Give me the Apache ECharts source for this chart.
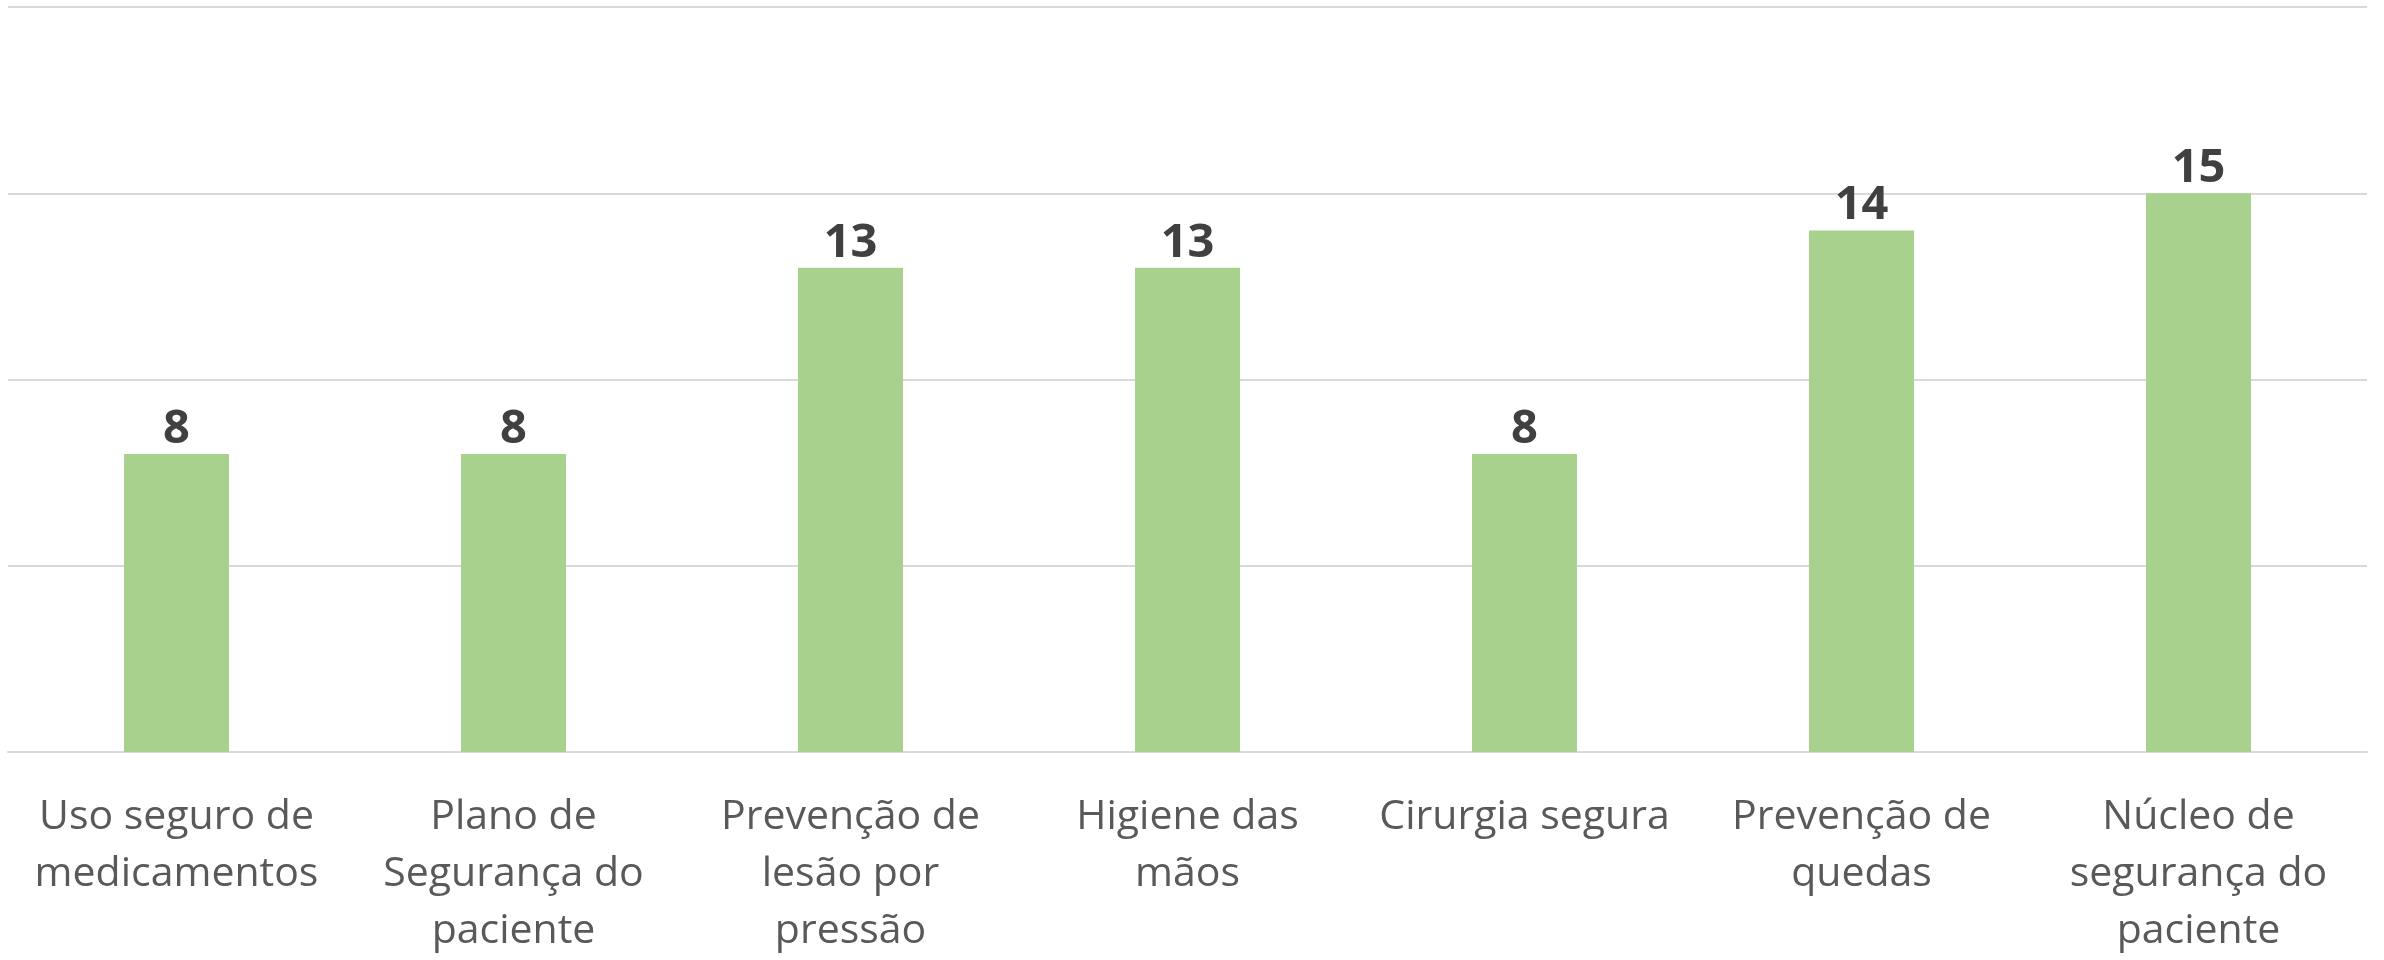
<!DOCTYPE html>
<html>
<head>
<meta charset="utf-8">
<script src="https://cdn.jsdelivr.net/npm/echarts@6/dist/echarts.min.js"></script>
<style>
html,body{margin:0;padding:0;background:#fff;}
#chart{width:2384px;height:960px;}
</style>
</head>
<body>
<div id="chart"></div>
<script>
var categories = [
  "Uso seguro de\nmedicamentos",
  "Plano de\nSegurança do\npaciente",
  "Prevenção de\nlesão por\npressão",
  "Higiene das\nmãos",
  "Cirurgia segura",
  "Prevenção de\nquedas",
  "Núcleo de\nsegurança do\npaciente"
];
var values = [8, 8, 13, 13, 8, 14, 15];
var yMin = 0, yMax = 20, yInterval = 5;

var chart = echarts.init(document.getElementById('chart'), null, {renderer: 'canvas'});
chart.setOption({
  animation: false,
  backgroundColor: '#ffffff',
  grid: {left: 8, right: 17, top: 7, bottom: 200, containLabel: false},
  xAxis: {
    type: 'category',
    data: categories,
    axisLine: {show: true, lineStyle: {color: '#D9D9D9', width: 2}},
    axisTick: {show: false},
    axisLabel: {
      interval: 0,
      margin: 37,
      color: '#595959',
      fontFamily: 'Open Sans',
      fontSize: 41,
      lineHeight: 57
    }
  },
  yAxis: {
    type: 'value',
    min: yMin, max: yMax, interval: yInterval,
    axisLine: {show: false},
    axisTick: {show: false},
    axisLabel: {show: false},
    splitLine: {show: true, lineStyle: {color: '#D9D9D9', width: 2}}
  },
  series: [{
    type: 'bar',
    data: values,
    barWidth: 105,
    itemStyle: {color: '#A9D18E'},
    label: {
      show: true,
      position: 'top',
      distance: 1,
      color: '#404040',
      fontFamily: 'Open Sans',
      fontWeight: 'bold',
      fontSize: 47,
      lineHeight: 47
    }
  }]
});
</script>
</body>
</html>
